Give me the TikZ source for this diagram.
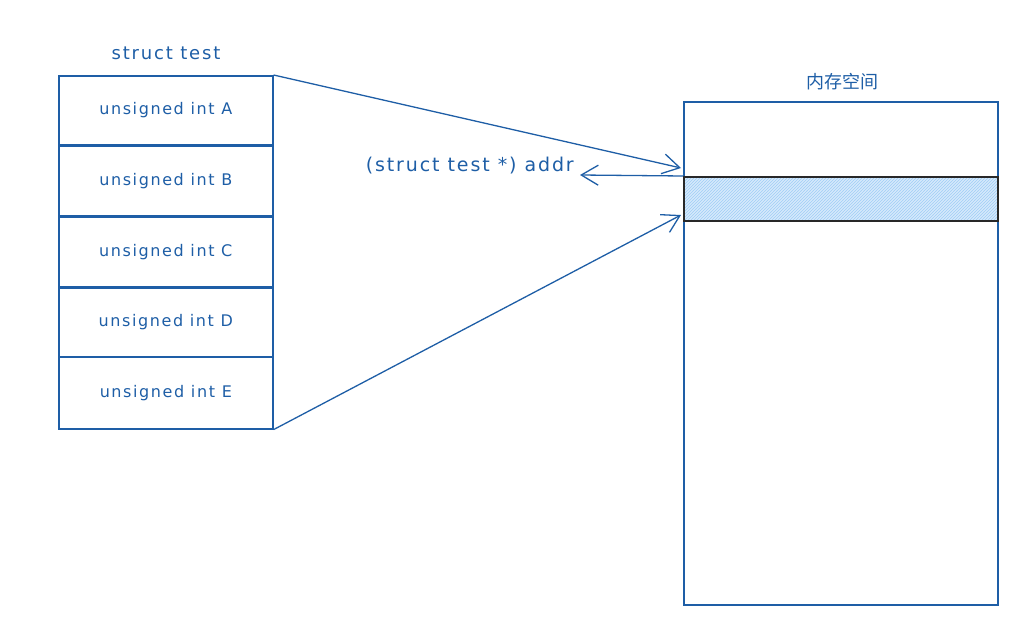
\documentclass[tikz,border=0pt]{standalone}
\usepackage{fontspec}
\setmainfont{DejaVu Sans}
\newfontfamily\hand[LetterSpace=10]{DejaVu Sans}
\newfontfamily\cjk{Noto Sans CJK SC}
\usetikzlibrary{arrows.meta,patterns}
\definecolor{ink}{RGB}{30,94,166}
\definecolor{band}{RGB}{214,234,252}
\definecolor{hatch}{RGB}{160,205,245}
\definecolor{dark}{RGB}{40,40,40}
\begin{document}
\begin{tikzpicture}[x=1pt,y=-1pt,
  field/.style={draw=ink, line width=1.6pt, minimum width=214pt, minimum height=69pt,
    inner sep=0pt, text=ink, font=\hand\fontsize{16}{18}\selectfont, anchor=north west},
  lbl/.style={text=ink, font=\hand\fontsize{18}{20}\selectfont, inner sep=0pt},
  conn/.style={draw=ink, line width=1.3pt, -{Straight Barb[length=17pt,width=20pt]}}
]
\useasboundingbox (0,0) rectangle (1031,644);
\node[lbl] (title) at (166,53) {struct test};
\node[field] (A) at (58,75) {unsigned int A};
\node[field, minimum height=70pt] (B) at (58,145) {unsigned int B};
\node[field, minimum height=70pt] (C) at (58,216) {unsigned int C};
\node[field] (D) at (58,287) {unsigned int D};
\node[field, minimum height=72pt] (E) at (58,356) {unsigned int E};
\node[draw=ink, line width=1.6pt, minimum width=314pt, minimum height=503pt,
  inner sep=0pt, anchor=north west] (mem) at (683,101) {};
\node[lbl, font=\cjk\fontsize{18}{20}\selectfont, anchor=south] (memt) at (842,90) {内存空间};
\node[draw=dark, line width=1.7pt, minimum width=314pt, minimum height=44pt, inner sep=0pt,
  anchor=north west, preaction={fill=band}, pattern=north east lines, pattern color=hatch]
  (slot) at (683,176) {};
\coordinate (m1) at (681,168);
\coordinate (m2) at (681,215);
\coordinate (p) at (580,175);
\draw[conn] (A.north east) -- (m1);
\draw[conn] (E.south east) -- (m2);
\draw[conn] (slot.north west) -- (p);
\node[lbl, font=\hand\fontsize{19}{21}\selectfont, anchor=east] (addr) at (574,166) {(struct test *) addr};
\end{tikzpicture}
\end{document}
